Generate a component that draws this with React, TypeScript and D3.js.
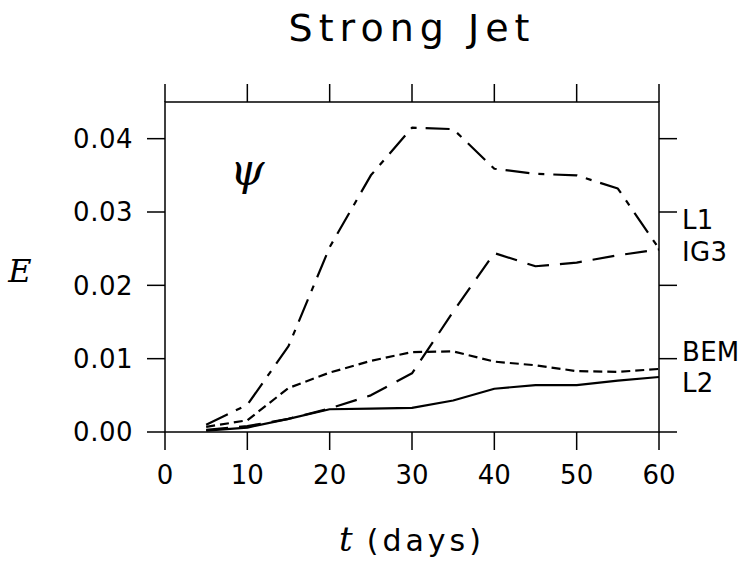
import * as d3 from 'd3';

// time axis (days), sampled every 5 days
const days = [5, 10, 15, 20, 25, 30, 35, 40, 45, 50, 55, 60];

// energy curves
const l1 = [0.001, 0.0037, 0.0117, 0.0252, 0.0350, 0.0415, 0.0413, 0.0359, 0.0352, 0.0350, 0.0332, 0.0250];
const ig3 = [0.0003, 0.0008, 0.0018, 0.0032, 0.0050, 0.0080, 0.0164, 0.0244, 0.0226, 0.0231, 0.0241, 0.0249];
const bem = [0.0007, 0.0016, 0.0060, 0.0081, 0.0097, 0.0109, 0.0110, 0.0096, 0.0091, 0.0083, 0.0082, 0.0086];
const l2 = [0.0002, 0.0006, 0.0018, 0.0031, 0.0032, 0.0033, 0.0043, 0.0059, 0.0064, 0.0064, 0.0070, 0.0075];

const xTicks = [0, 10, 20, 30, 40, 50, 60];
const yTicks = [0, 0.01, 0.02, 0.03, 0.04];

const seriesNames = ['L1', 'IG3', 'BEM', 'L2'];
const labelValues = [0.0290, 0.02465, 0.0110, 0.0067];

const W = 740;
const H = 561;
const left = 165, right = 659, top = 102, bottom = 432;
const TICK = 18;
const sans = '"DejaVu Sans", sans-serif';
const serif = '"DejaVu Serif", serif';

export default function App() {
  const x = d3.scaleLinear().domain([0, 60]).range([left, right]);
  const y = d3.scaleLinear().domain([0, 0.045]).range([bottom, top]);

  const line = d3.line<number>()
    .x((_, i) => x(days[i]))
    .y(d => y(d));

  const series = [
    { values: l1, dash: '24,9,6,9' },
    { values: ig3, dash: '22,11' },
    { values: bem, dash: '9,5' },
    { values: l2, dash: null },
  ];

  return (
    <div>
      <style>{'body{margin:0}'}</style>
      <svg width={W} height={H} style={{ display: 'block', background: '#fff' }}>
        {/* title */}
        <text x={(left + right) / 2} y={41} textAnchor="middle"
          style={{ font: `38px ${sans}`, letterSpacing: '6px' }}>Strong Jet</text>

        {/* frame */}
        <rect x={left} y={top} width={right - left} height={bottom - top}
          fill="none" stroke="#000" strokeWidth={1.5} />

        {/* x ticks bottom and top */}
        {xTicks.map(t => (
          <g key={'x' + t}>
            <line x1={x(t)} x2={x(t)} y1={bottom} y2={bottom + TICK} stroke="#000" strokeWidth={1.5} />
            <line x1={x(t)} x2={x(t)} y1={top} y2={top - TICK} stroke="#000" strokeWidth={1.5} />
            <text x={x(t)} y={484} textAnchor="middle"
              style={{ font: `26px ${sans}` }}>{t}</text>
          </g>
        ))}

        {/* y ticks left and right */}
        {yTicks.map(v => (
          <g key={'y' + v}>
            <line x1={left} x2={left - TICK} y1={y(v)} y2={y(v)} stroke="#000" strokeWidth={1.5} />
            <line x1={right} x2={right + TICK} y1={y(v)} y2={y(v)} stroke="#000" strokeWidth={1.5} />
            <text x={133} y={y(v)} dy="0.36em" textAnchor="end"
              style={{ font: `26px ${sans}`, letterSpacing: '0.5px' }}>{d3.format('.2f')(v)}</text>
          </g>
        ))}

        {/* curves */}
        {series.map((s, i) => (
          <path key={i} d={line(s.values) || ''} fill="none" stroke="#000" strokeWidth={2.2}
            strokeDasharray={s.dash || undefined} strokeLinejoin="round" />
        ))}

        {/* series labels on the right */}
        {seriesNames.map((n, i) => (
          <text key={n} x={682} y={y(labelValues[i])} dy="0.36em"
            style={{ font: `26px ${sans}`, letterSpacing: '0.3px' }}>{n}</text>
        ))}

        {/* psi annotation */}
        <text x={x(10)} y={y(0.0355)} dy="0.3em" textAnchor="middle"
          style={{ font: `italic 44px ${serif}` }}>ψ</text>

        {/* axis titles */}
        <text x={20} y={270} dy="0.36em" textAnchor="middle"
          style={{ font: `italic 32px ${serif}` }}>E</text>
        <text x={412} y={551} textAnchor="middle">
          <tspan style={{ font: `italic 34px ${serif}` }}>t</tspan>
          <tspan dx={14} style={{ font: `30px ${sans}`, letterSpacing: '4px' }}>(days)</tspan>
        </text>
      </svg>
    </div>
  );
}
